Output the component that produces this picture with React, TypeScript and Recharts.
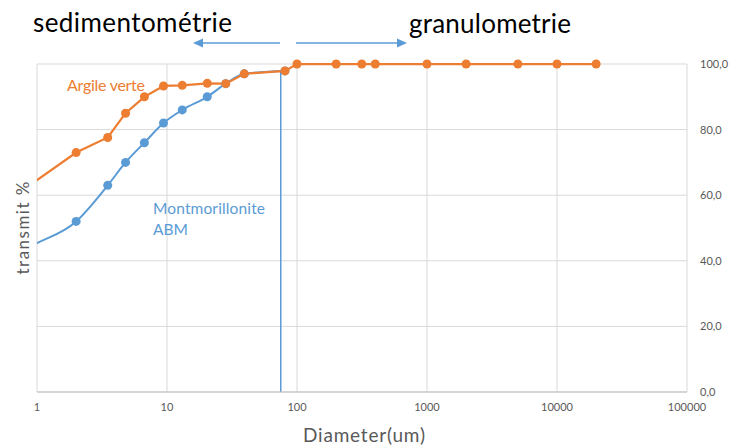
import { LineChart, Line, XAxis, YAxis, CartesianGrid, ReferenceLine } from "recharts";

// diameters (um) and transmitted %
const argileX = [0.9, 2, 3.5, 4.8, 6.7, 9.4, 13.1, 20.4, 28.3, 39.3, 80.8, 100, 200, 315, 400, 1000, 2000, 5000, 10000, 20000];
const argileY = [63.3, 73, 77.6, 85, 90, 93.3, 93.5, 94.1, 94, 97, 97.9, 100, 100, 100, 100, 100, 100, 100, 100, 100];

const montX = [0.5, 0.9, 2, 3.5, 4.8, 6.7, 9.4, 13.1, 20.4, 28.3, 39.3, 80.8];
const montY = [38, 44.4, 52, 63, 70, 76, 82, 86, 90, 94, 97, 97.9];

const cutX = 75;
const cutTop = 97.8;

const xTicks = [1, 10, 100, 1000, 10000, 100000];
const yTicks = [0, 20, 40, 60, 80, 100];

const ORANGE = "#ED7D31";
const BLUE = "#5B9BD5";
const GREY = "#595959";
const FONT = "Lato, 'Open Sans', sans-serif";

const argile = argileX.map((x, i) => ({ x, y: argileY[i] }));
const mont = montX.map((x, i) => ({ x, y: montY[i] }));

export default function App() {
  return (
    <div
      style={{
        position: "absolute",
        left: 0,
        top: 0,
        width: 732,
        height: 448,
        background: "#fff",
        fontFamily: FONT,
      }}
    >
      <LineChart
        width={732}
        height={448}
        margin={{ top: 64, right: 0, left: 37, bottom: 0 }}
      >
        <CartesianGrid stroke="#d9d9d9" strokeWidth={1} />
        <XAxis
          dataKey="x"
          type="number"
          scale="log"
          domain={[1, 100000]}
          ticks={xTicks}
          allowDataOverflow
          height={56}
          tickSize={0}
          tickMargin={11}
          axisLine={{ stroke: "#bfbfbf" }}
          tick={{ fill: GREY, fontSize: 11, fontFamily: FONT }}
        />
        <YAxis
          orientation="right"
          type="number"
          domain={[0, 100]}
          ticks={yTicks}
          width={45}
          tickSize={0}
          tickMargin={13}
          axisLine={false}
          tick={{ fill: GREY, fontSize: 11, fontFamily: FONT, textAnchor: "start" }}
          tickFormatter={(v: number) => v.toFixed(1).replace(".", ",")}
        />
        <ReferenceLine
          segment={[
            { x: cutX, y: 0 },
            { x: cutX, y: cutTop },
          ]}
          stroke={BLUE}
          strokeWidth={1.5}
        />
        <Line
          data={mont}
          dataKey="y"
          type="monotone"
          stroke={BLUE}
          strokeWidth={2}
          dot={{ r: 4.5, fill: BLUE, stroke: BLUE, strokeWidth: 0 }}
          isAnimationActive={false}
        />
        <Line
          data={argile}
          dataKey="y"
          type="linear"
          stroke={ORANGE}
          strokeWidth={2.25}
          dot={{ r: 4.5, fill: ORANGE, stroke: ORANGE, strokeWidth: 0 }}
          isAnimationActive={false}
        />
      </LineChart>

      {/* annotations */}
      <svg
        width={732}
        height={448}
        style={{ position: "absolute", left: 0, top: 0, pointerEvents: "none" }}
        fontFamily={FONT}
      >
        <text x={33} y={32} fontSize={26} fill="#000" textLength={199}>
          sedimentométrie
        </text>
        <text x={409} y={33} fontSize={26} fill="#000" textLength={162}>
          granulometrie
        </text>

        <line x1={280} y1={43} x2={200} y2={43} stroke={BLUE} strokeWidth={1.5} />
        <polygon points="193,43 203,38.5 203,47.5" fill={BLUE} />
        <line x1={296} y1={43} x2={400} y2={43} stroke={BLUE} strokeWidth={1.5} />
        <polygon points="407,43 397,38.5 397,47.5" fill={BLUE} />

        <text x={67} y={91} fontSize={16} fill={ORANGE} textLength={78}>
          Argile verte
        </text>
        <text x={153} y={214} fontSize={15.5} fill={BLUE} textLength={112}>
          Montmorillonite
        </text>
        <text x={153} y={235} fontSize={15.5} fill={BLUE}>
          ABM
        </text>

        <text x={364} y={442} fontSize={19} fill={GREY} textAnchor="middle" textLength={122}>
          Diameter(um)
        </text>
        <text
          x={0}
          y={0}
          fontSize={17}
          fill={GREY}
          textAnchor="middle"
          textLength={93}
          transform="translate(29 228) rotate(-90)"
        >
          transmit %
        </text>
      </svg>
    </div>
  );
}
